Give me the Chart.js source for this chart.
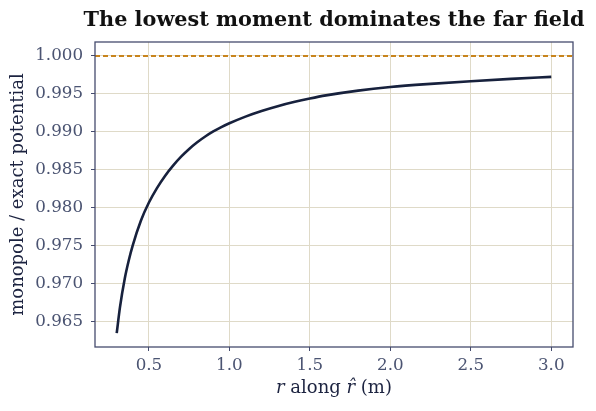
<!DOCTYPE html>
<html>
<head>
<meta charset="utf-8">
<script src="https://cdn.jsdelivr.net/npm/chart.js@4"></script>
<style>
  html, body { margin: 0; padding: 0; background: #ffffff; }
  #wrap { width: 596px; height: 411px; }
</style>
</head>
<body>
<div id="wrap"><canvas id="farFieldChart"></canvas></div>
<script>
// values
const radius = [0.30, 0.32, 0.35, 0.375, 0.40, 0.45, 0.50, 0.55, 0.60, 0.65, 0.70, 0.75, 0.80, 0.85, 0.90, 0.95, 1.00, 1.10, 1.20, 1.30, 1.40, 1.50, 1.60, 1.80, 2.00, 2.25, 2.50, 2.75, 3.00];
const ratio = [0.9635, 0.9669, 0.9707, 0.9731, 0.9751, 0.9783, 0.9807, 0.9826, 0.9842, 0.98555, 0.98673, 0.98775, 0.98863, 0.98939, 0.99005, 0.99063, 0.99113, 0.99201, 0.99275, 0.99338, 0.99392, 0.99439, 0.9948, 0.99543, 0.9959, 0.99632, 0.99667, 0.99697, 0.99724];
const exactLevel = 1.0;

const xTicks = [0.5, 1.0, 1.5, 2.0, 2.5, 3.0];
const yTicks = [0.965, 0.970, 0.975, 0.980, 0.985, 0.990, 0.995, 1.000];
const xRange = [0.165, 3.135];
const yRange = [0.96168, 1.00183];

const chartTitle = 'The lowest moment dominates the far field';

const serif = "'DejaVu Serif', 'Liberation Serif', serif";
const frameColor = '#454c6e';
const gridColor = '#dfdac8';
const tickColor = '#4b5472';
const labelColor = '#1c2340';

const curvePoints = radius.map((r, i) => ({ x: r, y: ratio[i] }));
const refPoints = xRange.map(x => ({ x: x, y: exactLevel }));

// frame around the plot area, the title (no squeezing) and the x label with italic r
const framePlugin = {
  id: 'frame',
  afterDraw(chart) {
    const { ctx, chartArea: a } = chart;
    const mid = (a.left + a.right) / 2;
    ctx.save();
    ctx.strokeStyle = frameColor;
    ctx.lineWidth = 1.3;
    ctx.strokeRect(a.left, a.top, a.right - a.left, a.bottom - a.top);

    ctx.fillStyle = '#111111';
    ctx.textAlign = 'center';
    ctx.textBaseline = 'middle';
    ctx.font = 'bold 20.8px ' + serif;
    ctx.fillText(chartTitle, mid, 20.5);

    const parts = [
      { t: 'r', f: 'italic 18px ' + serif },
      { t: ' along ', f: '18px ' + serif },
      { t: 'r\u0302', f: 'italic 18px ' + serif },
      { t: ' (m)', f: '18px ' + serif }
    ];
    let total = 0;
    parts.forEach(p => { ctx.font = p.f; p.w = ctx.measureText(p.t).width; total += p.w; });
    let x = mid - total / 2;
    ctx.fillStyle = labelColor;
    ctx.textAlign = 'left';
    parts.forEach(p => { ctx.font = p.f; ctx.fillText(p.t, x, 388); x += p.w; });
    ctx.restore();
  }
};

const ctx = document.getElementById('farFieldChart').getContext('2d');
new Chart(ctx, {
  type: 'scatter',
  data: {
    datasets: [
      {
        label: 'exact',
        data: refPoints,
        showLine: true,
        borderColor: '#c8841c',
        borderWidth: 2,
        borderDash: [5, 3],
        pointRadius: 0
      },
      {
        label: 'monopole / exact',
        data: curvePoints,
        showLine: true,
        borderColor: '#17213d',
        borderWidth: 2.6,
        cubicInterpolationMode: 'monotone',
        pointRadius: 0
      }
    ]
  },
  options: {
    responsive: true,
    maintainAspectRatio: false,
    animation: false,
    layout: {
      padding: { left: 0, right: 23, top: 42, bottom: 0 }
    },
    plugins: {
      legend: { display: false },
      tooltip: { enabled: false },
      title: { display: false }
    },
    scales: {
      x: {
        type: 'linear',
        min: xRange[0],
        max: xRange[1],
        afterBuildTicks: scale => { scale.ticks = xTicks.map(v => ({ value: v })); },
        afterFit: scale => { scale.height = 64; },
        border: { display: false },
        grid: { color: gridColor, lineWidth: 1, tickColor: frameColor, tickLength: 4 },
        ticks: {
          color: tickColor,
          font: { family: serif, size: 16.7 },
          padding: 5,
          callback: v => v.toFixed(1)
        }
      },
      y: {
        type: 'linear',
        min: yRange[0],
        max: yRange[1],
        afterBuildTicks: scale => { scale.ticks = yTicks.map(v => ({ value: v })); },
        afterFit: scale => { scale.width = 95; },
        border: { display: false },
        grid: { color: gridColor, lineWidth: 1, tickColor: frameColor, tickLength: 4 },
        title: {
          display: true,
          text: 'monopole / exact potential',
          color: labelColor,
          font: { family: serif, size: 18 },
          padding: { top: 8, bottom: 0 }
        },
        ticks: {
          color: tickColor,
          font: { family: serif, size: 16.7 },
          padding: 8,
          callback: v => v.toFixed(3)
        }
      }
    }
  },
  plugins: [framePlugin]
});
</script>
</body>
</html>
